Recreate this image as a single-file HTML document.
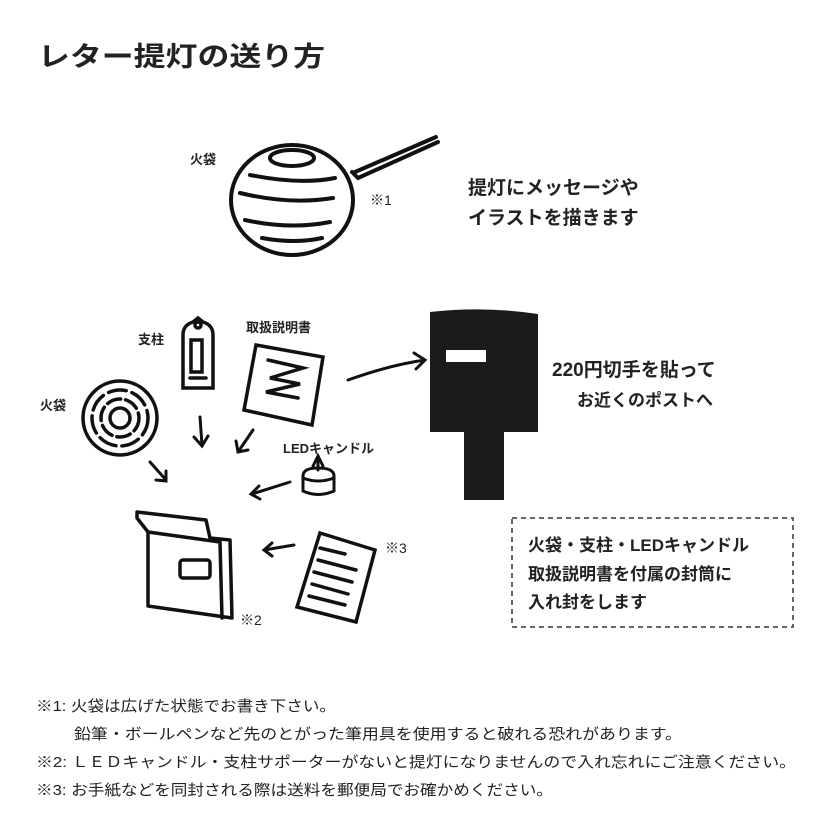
<!DOCTYPE html>
<html><head><meta charset="utf-8"><style>
html,body{margin:0;padding:0;background:#fff;}
svg{display:block;}
text{font-family:"Liberation Sans","Noto Sans CJK JP",sans-serif;fill:#222;}
.b{font-weight:bold;}
</style></head><body>
<svg width="840" height="840" viewBox="0 0 840 840" xmlns="http://www.w3.org/2000/svg">
<text x="38" y="66" font-size="27" class="b" textLength="287" lengthAdjust="spacingAndGlyphs">レター提灯の送り方</text>

<!-- lantern -->
<g fill="none" stroke="#111" stroke-width="4" stroke-linecap="round">
<ellipse cx="292" cy="200" rx="61" ry="55"/>
<ellipse cx="292" cy="158" rx="22" ry="8" fill="#fff"/>
<path d="M250 175 Q300 185 335 178"/>
<path d="M240 193 Q290 205 333 198"/>
<path d="M245 220 Q290 230 330 222"/>
<path d="M262 238 Q295 244 322 238"/>
<path d="M355 172 L436 137 M358 178 L438 142 M352 172 L358 178"/>
</g>
<text x="190" y="164" font-size="13" class="b">火袋</text>
<text x="370" y="205" font-size="14">※1</text>
<text x="468" y="194" font-size="19" class="b">提灯にメッセージや</text>
<text x="468" y="224" font-size="19" class="b">イラストを描きます</text>

<!-- pillar -->
<g fill="none" stroke="#111" stroke-width="3.5" stroke-linecap="round">
<path d="M183 335 Q183 325 193 322 L198 318 L203 322 Q213 325 213 335 L213 388 L183 388 Z"/>
<circle cx="198" cy="325" r="3"/>
<rect x="191" y="340" width="11" height="32"/>
<path d="M190 378 L206 378"/>
</g>
<text x="138" y="344" font-size="13" class="b">支柱</text>
<!-- manual -->
<g fill="none" stroke="#111" stroke-width="3.5" stroke-linecap="round">
<path d="M256 345 L323 357 L312 425 L244 410 Z"/>
<path d="M268 360 L303 368 L270 378 L300 384 L266 392 L298 398"/>
</g>
<text x="246" y="332" font-size="13" class="b">取扱説明書</text>
<!-- flat lantern -->
<g fill="none" stroke="#111" stroke-width="3.5" stroke-linecap="round">
<circle cx="120" cy="418" r="37"/>
<circle cx="120" cy="418" r="28" stroke-dasharray="18 6"/>
<circle cx="120" cy="418" r="19" stroke-dasharray="14 5"/>
<circle cx="120" cy="418" r="10"/>
</g>
<text x="40" y="410" font-size="13" class="b">火袋</text>
<!-- arrows -->
<g fill="none" stroke="#111" stroke-width="3" stroke-linecap="round">
<path d="M200 417 L202 445 M194 437 L202 446 L208 436"/>
<path d="M253 430 L238 452 M236 441 L238 452 L248 450"/>
<path d="M150 462 L166 480 M156 480 L166 481 L166 471"/>
<path d="M290 482 L252 494 M259 486 L251 494 L260 499"/>
<path d="M294 545 L264 550 M272 543 L264 550 L272 556"/>
<path d="M348 380 Q390 365 425 360 M414 353 L425 360 L416 369"/>
</g>
<!-- LED candle -->
<g fill="none" stroke="#111" stroke-width="3" stroke-linecap="round">
<path d="M303 476 Q303 468 318 468 Q334 468 334 476 L334 491 Q318 498 303 491 Z"/>
<path d="M303 478 Q318 484 334 478"/>
<path d="M318 470 L318 458 M313 466 L318 456 L323 466"/>
</g>
<text x="283" y="453" font-size="13" class="b">LEDキャンドル</text>
<!-- box -->
<g fill="none" stroke="#111" stroke-width="3.5" stroke-linecap="round" stroke-linejoin="round">
<path d="M137 512 L206 520 L210 538 L230 540 L232 618 L148 606 L148 532 L137 518 Z"/>
<path d="M148 532 L220 542 L222 618"/>
<rect x="180" y="560" width="30" height="18" rx="3"/>
</g>
<text x="240" y="625" font-size="14">※2</text>
<!-- letter -->
<g fill="none" stroke="#111" stroke-width="3.5" stroke-linecap="round">
<path d="M320 533 L375 550 L356 622 L297 607 Z"/>
<path d="M320 548 L345 554 M318 560 L356 570 M314 572 L352 582 M312 584 L348 594 M309 596 L345 605"/>
</g>
<text x="385" y="553" font-size="14">※3</text>
<!-- postbox -->
<path d="M430 312 Q485 306 538 314 L538 432 L430 432 Z" fill="#1a1a1a"/>
<rect x="464" y="430" width="40" height="70" fill="#1a1a1a"/>
<rect x="446" y="350" width="40" height="12" fill="#fff"/>
<text x="552" y="376" font-size="19" class="b">220円切手を貼って</text>
<text x="577" y="406" font-size="17" class="b">お近くのポストへ</text>
<!-- dashed box -->
<rect x="512" y="518" width="281" height="109" fill="none" stroke="#333" stroke-width="1.5" stroke-dasharray="5 4"/>
<text x="528" y="551" font-size="17" class="b">火袋・支柱・LEDキャンドル</text>
<text x="528" y="580" font-size="17" class="b">取扱説明書を付属の封筒に</text>
<text x="528" y="608" font-size="17" class="b">入れ封をします</text>
<!-- notes -->
<text x="36" y="711" font-size="15" textLength="300" lengthAdjust="spacingAndGlyphs">※1: 火袋は広げた状態でお書き下さい。</text>
<text x="74" y="739" font-size="15" textLength="608" lengthAdjust="spacingAndGlyphs">鉛筆・ボールペンなど先のとがった筆用具を使用すると破れる恐れがあります。</text>
<text x="36" y="767" font-size="15" textLength="760" lengthAdjust="spacingAndGlyphs">※2: ＬＥＤキャンドル・支柱サポーターがないと提灯になりませんので入れ忘れにご注意ください。</text>
<text x="36" y="795" font-size="15" textLength="517" lengthAdjust="spacingAndGlyphs">※3: お手紙などを同封される際は送料を郵便局でお確かめください。</text>
</svg>
</body></html>
